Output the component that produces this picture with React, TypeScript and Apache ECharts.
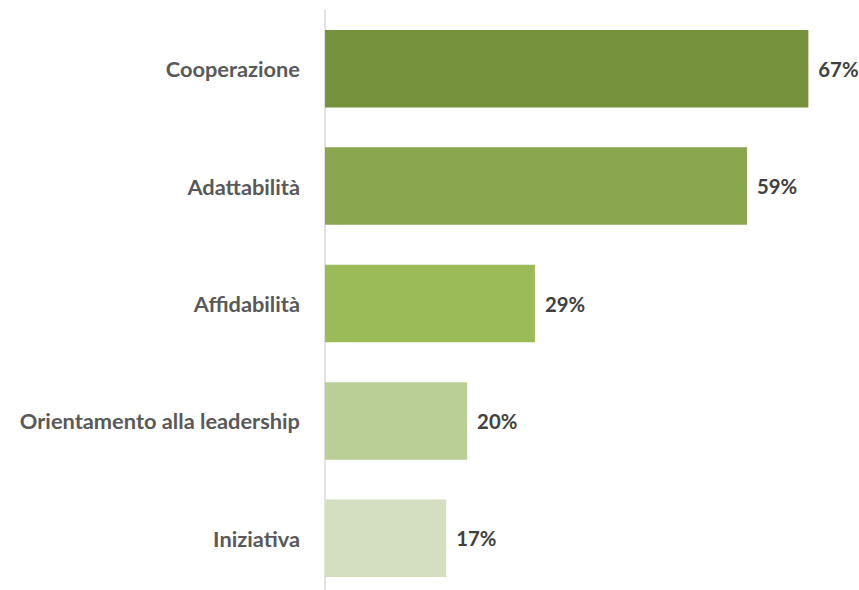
import React, { useEffect, useRef } from "react";
import * as echarts from "echarts";

const categories = [
  "Cooperazione",
  "Adattabilità",
  "Affidabilità",
  "Orientamento alla leadership",
  "Iniziativa",
];
const values = [67, 58.5, 29.1, 19.7, 16.8];
const barColors = ["#76923C", "#8AA64E", "#9BBB59", "#BACF96", "#D3DFBF"];

export default function App() {
  const ref = useRef<HTMLDivElement>(null);
  useEffect(() => {
    if (!ref.current) return;
    const chart = echarts.init(ref.current, null, { renderer: "svg" });
    chart.setOption({
      animation: false,
      backgroundColor: "#ffffff",
      grid: {
        left: 325,
        top: 10,
        width: 505,
        height: 587,
        outerBoundsMode: "none",
        containLabel: false,
      },
      xAxis: {
        type: "value",
        min: 0,
        max: 70,
        show: false,
        splitLine: { show: false },
      },
      yAxis: {
        type: "category",
        inverse: true,
        data: categories,
        axisLine: { show: true, lineStyle: { color: "#D9D9D9", width: 1.5 } },
        axisTick: { show: false },
        axisLabel: {
          margin: 25,
          color: "#595959",
          fontFamily: "Lato",
          fontWeight: "bold",
          fontSize: 21.8,
        },
      },
      series: [
        {
          type: "bar",
          barWidth: "66%",
          data: values.map((v, i) => ({
            value: v,
            itemStyle: { color: barColors[i] },
          })),
          label: {
            show: true,
            position: "right",
            distance: 10,
            color: "#404040",
            fontFamily: "Lato",
            fontWeight: "bold",
            fontSize: 20.3,
            formatter: (p: any) => Math.round(p.value) + "%",
          },
        },
      ],
    });
    return () => chart.dispose();
  }, []);
  return (
    <div
      ref={ref}
      style={{ position: "fixed", left: 0, top: 0, width: 859, height: 590 }}
    />
  );
}
